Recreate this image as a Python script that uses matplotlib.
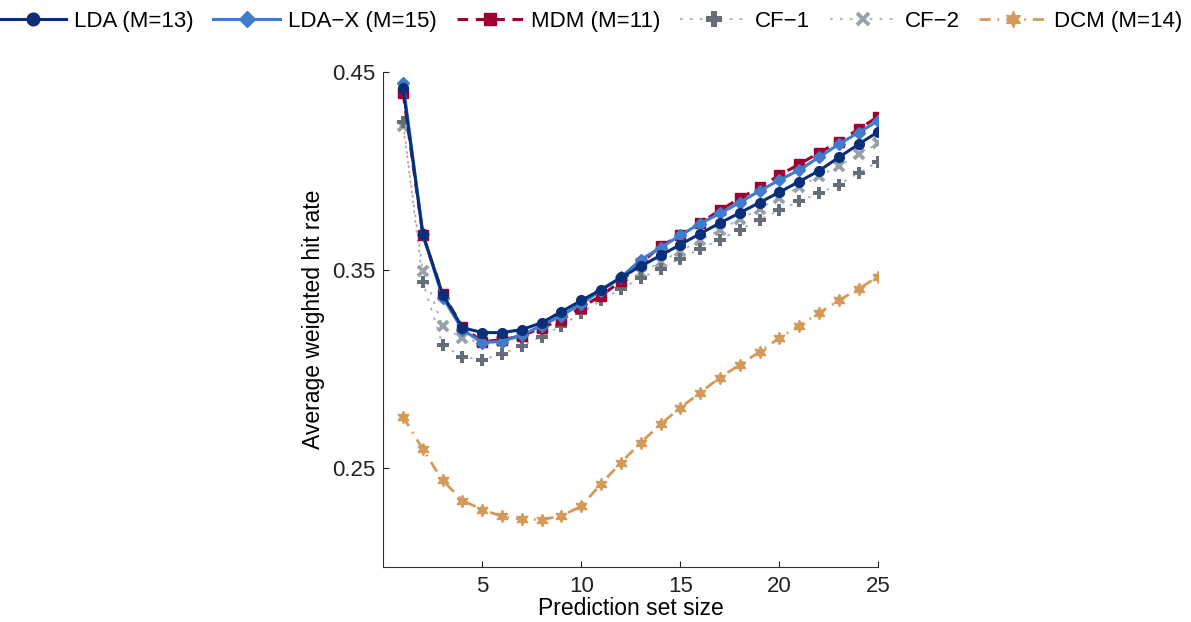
import numpy as np
import matplotlib
matplotlib.use('Agg')
import matplotlib.pyplot as plt

plt.rcParams['font.family'] = ['Liberation Sans', 'DejaVu Sans']

# prediction set sizes
set_size = np.arange(1, 26)

# average weighted hit rate per model
lda = [0.4417, 0.3680, 0.3376, 0.3209, 0.3184, 0.3184, 0.3199, 0.3234, 0.3290, 0.3346,
       0.3401, 0.3462, 0.3519, 0.3573, 0.3628, 0.3683, 0.3737, 0.3788, 0.3840, 0.3892,
       0.3946, 0.4000, 0.4068, 0.4134, 0.4198]
lda_x = [0.4443, 0.3680, 0.3361, 0.3199, 0.3134, 0.3139, 0.3173, 0.3219, 0.3270, 0.3330,
         0.3396, 0.3462, 0.3552, 0.3612, 0.3675, 0.3734, 0.3785, 0.3840, 0.3899, 0.3953,
         0.4004, 0.4068, 0.4134, 0.4193, 0.4253]
mdm = [0.4394, 0.3675, 0.3381, 0.3214, 0.3138, 0.3148, 0.3168, 0.3209, 0.3249, 0.3310,
       0.3371, 0.3442, 0.3534, 0.3619, 0.3675, 0.3737, 0.3801, 0.3861, 0.3916, 0.3978,
       0.4033, 0.4091, 0.4147, 0.4210, 0.4274]
cf1 = [0.4248, 0.3438, 0.3121, 0.3062, 0.3047, 0.3076, 0.3118, 0.3163, 0.3219, 0.3283,
       0.3346, 0.3405, 0.3458, 0.3506, 0.3557, 0.3607, 0.3653, 0.3704, 0.3754, 0.3801,
       0.3847, 0.3886, 0.3931, 0.3990, 0.4046]
cf2 = [0.4227, 0.3497, 0.3215, 0.3155, 0.3135, 0.3140, 0.3165, 0.3205, 0.3255, 0.3315,
       0.3375, 0.3430, 0.3485, 0.3540, 0.3595, 0.3650, 0.3703, 0.3755, 0.3810, 0.3865,
       0.3918, 0.3973, 0.4024, 0.4083, 0.4139]
dcm = [0.2760, 0.2595, 0.2438, 0.2337, 0.2291, 0.2257, 0.2243, 0.2240, 0.2260, 0.2308,
       0.2421, 0.2528, 0.2629, 0.2721, 0.2805, 0.2881, 0.2957, 0.3022, 0.3087, 0.3157,
       0.3219, 0.3283, 0.3346, 0.3405, 0.3467]

fig = plt.figure(figsize=(11.91, 6.22), dpi=100)
ax = fig.add_axes([0.3218, 0.0879, 0.4157, 0.7968])

# draw the bottom ones first so the LDA curves sit on top
ax.plot(set_size, dcm, color='#d49a5a', linestyle=(0, (4, 2.5, 0.6, 2.5)), lw=2,
        marker=(6, 1, 0), ms=9, label='DCM (M=14)')
ax.plot(set_size, cf2, color='#a9aeb5', linestyle=(0, (1.5, 4)), lw=1.3,
        marker='x', ms=6.5, mew=2.8, mec='#9aa0a8', label='CF\u22122')
ax.plot(set_size, cf1, color='#a9aeb5', linestyle=(0, (1.5, 4)), lw=1.3,
        marker='P', ms=9, mew=0, mfc='#646d78', label='CF\u22121')
ax.plot(set_size, mdm, color='#a00030', linestyle=(0, (3.5, 2.5)), lw=2.2,
        marker='s', ms=6.5, label='MDM (M=11)')
ax.plot(set_size, lda_x, color='#3f7dcc', lw=2.2,
        marker='D', ms=6.5, label='LDA\u2212X (M=15)')
ax.plot(set_size, lda, color='#0a2f7a', lw=2.2,
        marker='o', ms=7, label='LDA (M=13)')

ax.set_xlim(0, 25)
ax.set_ylim(0.2, 0.45)
ax.set_xticks([5, 10, 15, 20, 25])
ax.set_yticks([0.25, 0.35, 0.45])
ax.set_yticklabels(['0.25', '0.35', '0.45'])
ax.tick_params(direction='in', length=4, labelsize=16, colors='#222222', pad=6)
ax.spines['top'].set_visible(False)
ax.spines['right'].set_visible(False)
for s in ['left', 'bottom']:
    ax.spines[s].set_color('#333333')
ax.set_xlabel('Prediction set size', fontsize=16.5, labelpad=0)
ax.set_ylabel('Average weighted hit rate', fontsize=16.5, labelpad=5)

# legend in the original order
handles, labels = ax.get_legend_handles_labels()
order = [5, 4, 3, 2, 1, 0]
fig.legend([handles[i] for i in order], [labels[i] for i in order],
           loc='upper center', bbox_to_anchor=(0.496, 1.0), ncol=6, frameon=False,
           fontsize=16, handlelength=3.0, columnspacing=0.9, handletextpad=0.35,
           markerscale=1.3, borderaxespad=0.1)

fig.savefig('out.png', dpi=100)
